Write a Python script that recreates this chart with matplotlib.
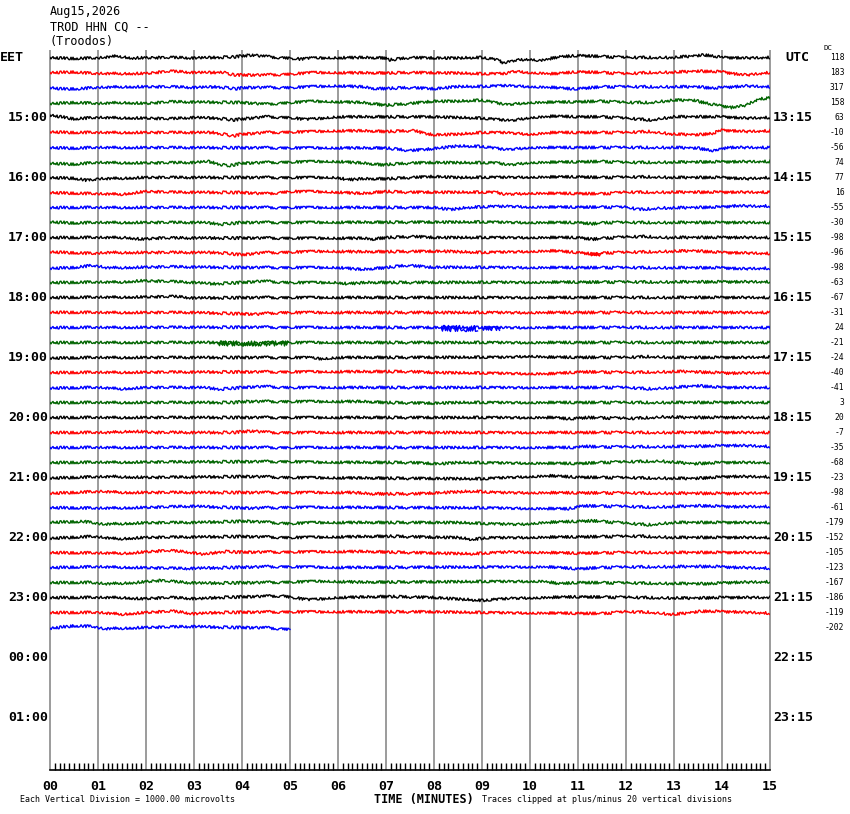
import numpy as np
import matplotlib.pyplot as plt

# header text
station_date = "Aug15,2026"
station_code = "TROD HHN CQ --"
station_name = "(Troodos)"

eet_labels = ['15:00', '16:00', '17:00', '18:00', '19:00', '20:00',
              '21:00', '22:00', '23:00', '00:00', '01:00']
utc_labels = ['13:15', '14:15', '15:15', '16:15', '17:15', '18:15',
              '19:15', '20:15', '21:15', '22:15', '23:15']
label_rows = [4, 8, 12, 16, 20, 24, 28, 32, 36, 40, 44]
n_rows = 48

minute_labels = ['%02d' % m for m in range(16)]

dc_values = [118, 183, 317, 158, 63, -10, -56, 74, 77, 16, -55, -30, -98,
             -96, -98, -63, -67, -31, 24, -21, -24, -40, -41, 3, 20, -7,
             -35, -68, -23, -98, -61, -179, -152, -105, -123, -167, -186,
             -119, -202]

# trace wander: (minute, amplitude), 15 units = 1 row
tr00 = [(0, 0), (0.5, -1), (1, -0.5), (1.4, 1.5), (1.7, -0.5), (2.5, 0), (3, -0.5),
        (3.8, 0.5), (4.2, 2.5), (4.6, 0.5), (5, -0.5), (5.2, -1.5), (5.5, -0.5),
        (6.5, 0), (7, -0.5), (7.05, -2.5), (7.5, 0), (8, -0.5), (8.5, -0.5), (9, 0),
        (9.3, -2), (9.45, -5.5), (9.7, -2.5), (10, -1.5), (10.2, -3), (10.6, 0.5),
        (11, 2), (11.5, 1), (12, 0), (13, 0), (13.65, 2.5), (14, 0), (14.5, -0.5), (15, 0)]
tr01 = [(0, 0), (0.5, 0.5), (0.9, -1), (2, -1), (2.5, 1.3), (3, 0), (3.5, 0),
        (3.55, 1.3), (3.7, -1.5), (3.9, -2.5), (4.5, -2.5), (5, -1.5), (5.5, 0),
        (7, -0.5), (7.5, 0), (8.5, -0.5), (9, -1.3), (9.5, -1), (9.65, 1.3), (10, 0),
        (10.5, -1.3), (11, 0.7), (11.5, 0), (12, -1.3), (12.5, 0), (13, 0.3),
        (13.5, 1.3), (14, 0.7), (14.3, -1.5), (14.5, -2.5), (15, 0)]
tr02 = [(0, 0), (0.25, -1.3), (0.6, -1.3), (1, 0), (1.5, 0.7), (2.5, 0.7), (3, 0),
        (3.5, 0.7), (3.85, -1.3), (4.1, 0), (5, 0), (5.5, 1), (6, 1.7), (6.5, 0.7),
        (6.8, -1.3), (7.5, 0), (8, -1.3), (8.5, 1), (9, 1), (9.5, 2), (10, 1),
        (10.5, 0), (10.9, -1.5), (11.5, 0.7), (13.5, 0.7), (13.8, -0.7), (14.5, 1.5),
        (15, 0.7)]
tr03 = [(0, -1), (0.5, 0), (1, -1), (1.5, 0), (2, -1), (2.5, 0.7), (4, 0),
        (4.5, -1.7), (5, 0), (5.5, 1.3), (6, 0.7), (6.5, 0), (7, -2.7), (7.5, -1),
        (8, 1.3), (8.5, 1.3), (9, 2.3), (9.5, -2), (10, 0), (11, 0.7), (11.5, 1.3),
        (12, 0), (12.5, 0), (13, 2.3), (13.4, 2.3), (13.8, -2), (14.2, -5),
        (14.5, -2.7), (14.75, 3.3), (15, 4.7)]
tr04 = [(0, 2.5), (0.5, -1.3), (1, 0), (2, -0.7), (2.5, -1.3), (3, 0), (3.5, -0.7),
        (3.8, -2.5), (4.1, -1), (4.5, 0.7), (5, 0), (5.35, -2), (5.6, -1), (6, 0.7),
        (8, 0.7), (9, -0.7), (9.6, -3), (10, 0), (10.5, 1.3), (11, 0.7), (11.5, 0.7),
        (12, -0.7), (12.5, -2.5), (13, 0.7), (14, 0.7), (14.5, -0.7), (15, 0)]
tr05 = [(0, 0.7), (0.5, 0), (3.4, 0), (3.6, -1.5), (3.8, -3.5), (4, -1.7), (4.5, 0),
        (5, 0.5), (5.5, 1), (6, 1.7), (6.5, 1.7), (7, 1), (7.6, 2), (7.8, -1),
        (8, -2.3), (8.5, -1.7), (9, 0), (9.5, 0), (10, -1.7), (10.5, 0), (12, 0),
        (12.5, 1), (13, -1.7), (13.5, -2.3), (13.8, -1), (14, 2.3), (14.5, 1), (15, 1.7)]
tr06 = [(0, 0), (0.5, -0.7), (1, 0), (7, -0.5), (7.5, -3), (7.8, -2), (8.2, 0),
        (8.5, 1.5), (9, 1), (9.5, -2), (10, 0), (13, 0), (13.5, -0.7), (13.85, -3.5),
        (14.1, 0), (15, 0)]
tr07 = [(0, -0.7), (0.5, -1.7), (1, 0), (2, -0.5), (3, 0), (3.3, 1), (3.7, -3.5),
        (4, -0.7), (4.5, 0), (5.5, 1), (6, 1), (6.5, -0.5), (6.9, -2.3), (7.5, -0.5),
        (8, 0), (9.3, -0.3), (9.55, -2.3), (10, 0), (11.5, 1), (12, 0), (15, 1)]
tr08 = [(0, 0), (0.5, -0.7), (0.8, -3), (1, -1.3), (1.5, -0.7), (2, 0), (6, 0),
        (6.2, -2.3), (6.5, -1.3), (7, -1.3), (7.5, 0), (8, 1), (8.5, 0), (11, 0.7),
        (11.5, 0), (12.5, 0.7), (13, 0), (14, 0), (14.5, -1.3), (15, 0)]
tr09 = [(0, 0), (0.5, -0.7), (1, -1.3), (1.5, -1.7), (2, 1), (2.5, 0.3), (4, 0),
        (4.5, -1.3), (5, 1), (5.5, 1), (6, 0.3), (6.5, -1), (7, 1), (7.5, 0.3),
        (9.3, 0.3), (9.45, -1.7), (10, -0.7), (11, -1), (11.5, -1.3), (12, 0.3), (15, 0.3)]
tr10 = [(0, 0), (8, 0), (8.35, -2), (8.7, 0), (9.2, 1), (9.6, 1.3), (10, 0.5),
        (12, 0.3), (12.3, -2), (12.7, -0.5), (13.5, 0), (14, 0.5), (14.3, 1.7),
        (14.7, 1.3), (15, 1.5)]
tr11 = [(0, 0.7), (0.5, -0.5), (1, 0), (3.2, 0), (3.6, -1.7), (4, 0), (9, 0.5),
        (10, 0), (11, 0), (11.3, -1.3), (11.6, 0), (15, 0)]
tr12 = [(0, 0), (1.6, 0), (1.9, -1.7), (2.3, -0.5), (4, -0.5), (6.5, -0.7),
        (6.75, -1.7), (7, 0), (7.6, 1), (8, 0), (11, 0), (11.3, -1.7), (11.6, -0.5),
        (12, 0.5), (12.4, 1), (12.8, 0), (15, 0)]
tr13 = [(0, 0.7), (0.9, -1), (1.2, 0), (3.5, 0), (4, -2.3), (4.4, -0.3), (5.7, 1.3),
        (6.5, 0.7), (8.2, 1.3), (9, 0), (10.5, 1.7), (11, 0), (11.35, -1.7),
        (11.6, -0.3), (13.4, 1.7), (14, 0), (15, -1)]
tr14 = [(0, -0.7), (0.5, 0), (0.9, 2), (1.2, -0.3), (2.5, 0.7), (4, 0), (6, 0),
        (6.5, -2), (6.9, -0.5), (7.45, 2.3), (7.9, 0.3), (10, 0), (14, -0.3),
        (14.4, -1.3), (15, -0.7)]
tr15 = [(0, 0), (1.5, 0.5), (1.9, 1.7), (2.5, 1), (3, 0), (3.4, -1.3), (4, 0),
        (4.4, 1.3), (5, 0), (6, 0), (6.2, -1.3), (6.6, 0), (15, 0.7)]
tr16 = [(0, 0), (2, 0.5), (2.6, 1), (3, -0.5), (4.5, 0), (6.5, 0), (11, 0), (15, 0)]
tr17 = [(0, 0.3), (1, 0), (3, 0), (4.3, -1.7), (4.8, 0), (15, 0)]
tr18 = [(0, 0), (4.5, 0.3), (6, 0), (15, 0)]
tr19 = [(0, 0), (3.5, 0), (4.1, -1.5), (4.6, 0), (15, 0)]
tr20 = [(0, -0.5), (1, 0), (5.3, 0), (5.7, -1.3), (6, 0), (9.5, 0.3), (10, 1.5),
        (10.4, 0.3), (12, 0), (12.5, 1), (13, 0), (14.5, 0), (15, 0.7)]
tr21 = [(0, 0), (7.45, 1), (8, 0), (10.4, -1.3), (11.1, 0.7), (12, 0), (13.2, 1),
        (14.2, -0.7), (15, 0)]
tr22 = [(0, -0.5), (1, 0), (1.5, -1.3), (2, 0), (3.2, 0), (3.55, -1.7), (4, 0),
        (4.4, 1), (5, 0), (12, 0), (12.45, -1.3), (13, 0), (13.5, 1.7), (14, 0), (15, 0)]
tr23 = [(0, 0), (3.8, 0), (4.1, 1), (6.5, 1), (7, 0), (8, -0.7), (8.5, 0), (15, 0)]
tr24 = [(0, 0), (10.5, 0), (10.8, -1.3), (11.2, 0), (12.1, -1), (12.8, 0.7),
        (13.2, 0), (15, 0)]
tr25 = [(0, 0), (1.2, 0), (1.7, 1.3), (2.2, 0), (3.8, 0), (4.2, 1.5), (4.6, 0), (15, 0)]
tr26 = [(0, 0), (11, 0), (11.1, 1.3), (11.5, 0.5), (13.3, 1), (13.6, 1.3), (14.2, 2),
        (14.6, 1.7), (15, 1)]
tr27 = [(0, 0), (5, 1), (5.5, 0.3), (7.5, 0), (8.1, -1.3), (8.5, 0), (11, -1),
        (11.5, 0), (12.7, 1.5), (13.4, -1.3), (14, 0), (15, 0)]
tr28 = [(0, -0.5), (1.3, 1), (2, 0), (4.2, 1), (5, 0), (9, -1.3), (9.5, 0),
        (10.4, 1.7), (11, 0.3), (13.4, -1), (14.2, 1), (15, 0.7)]
tr29 = [(0, -0.7), (1.1, 1), (1.6, 0), (6.3, 0), (6.7, -1.3), (7.6, -1.3), (8.2, 0),
        (8.8, 1.3), (9.3, 0), (14.4, -1), (15, 0)]
tr30 = [(0, 0), (1, -0.7), (2, 0), (3, 1.3), (3.5, 0.3), (4.2, -0.7), (5, 0.3),
        (9, -0.3), (10.8, -1.3), (11.1, 1.7), (12, 1), (12.5, 0.3), (13.6, 1.7),
        (14.2, 0.7), (15, 1)]
tr31 = [(0, 0.3), (0.7, 1), (1.1, -1.7), (2, -0.3), (3, 0), (4.1, 1.3), (5, -1),
        (5.5, 0), (8.5, 0), (9.2, -1.3), (9.8, -1.7), (10.3, 0), (11.3, 1.7),
        (11.8, 0), (12.45, -2.3), (13, 0), (15, 0)]
tr32 = [(0, -0.7), (0.9, 1), (1.4, -1.3), (2, 0), (4, 1), (5, 0), (7.1, 1.3),
        (8, 0.3), (8.5, 0), (8.8, -2), (9.1, -0.3), (12.3, 1.3), (13, 0), (15, 0)]
tr33 = [(0, 0), (1, -0.5), (1.6, -0.7), (2.45, 2), (2.9, 0.3), (3.2, -2), (3.6, 1),
        (4, 0.3), (6.5, 1), (7.5, 0), (8.8, -1.3), (9.6, 0.7), (11, -0.7), (12, 0), (15, 0)]
tr34 = [(0, 0), (1, 0.7), (2.8, -1), (4.75, 1), (6, 0), (10.35, 0.7), (11, -1.3),
        (11.5, 0), (12.45, 0.7), (13.8, 1), (14.3, 0), (15, -0.7)]
tr35 = [(0, 0), (0.8, 0), (1.2, -1.3), (1.8, 0), (2.3, 2), (2.8, 0), (3.2, -0.7),
        (4.5, 0), (5.7, 1.3), (6.5, 0.3), (10.3, 1.3), (10.6, -1.3), (11, 0),
        (13.7, -1.3), (14.2, 0), (15, 0.7)]
tr36 = [(0, 0), (1.5, 0), (1.9, -1.3), (2.5, 0), (3.1, -1.3), (3.5, 0), (4.85, 1.7),
        (5.4, -2.3), (6, 0), (7.1, 1), (8, 0), (9, -3), (9.6, -0.7), (11, 0.7),
        (13.4, -0.7), (14, 0), (15, 0)]
tr37 = [(0, 0), (1, 0), (1.5, -1.7), (2, 0), (2.55, 1.3), (3, -1.3), (3.5, 0),
        (5, 0.7), (8, 0.7), (9, 0), (11.5, -1), (12, 0.7), (12.5, 0.3), (13, -2),
        (13.6, 1.3), (14.2, 0.7), (15, -0.7)]
tr38 = [(0, -0.7), (0.5, 1.7), (0.9, 1), (1.1, -1.3), (1.5, -0.7), (2, 0), (3, 1),
        (3.5, 0.3), (4, 0), (4.5, -0.3), (5, -1.7)]

traces = [tr00, tr01, tr02, tr03, tr04, tr05, tr06, tr07, tr08, tr09,
          tr10, tr11, tr12, tr13, tr14, tr15, tr16, tr17, tr18, tr19,
          tr20, tr21, tr22, tr23, tr24, tr25, tr26, tr27, tr28, tr29,
          tr30, tr31, tr32, tr33, tr34, tr35, tr36, tr37, tr38]

# stretches with stronger shaking
burst_rows = [18, 18, 19, 13]
burst_start = [8.15, 9.0, 3.5, 11.25]
burst_end = [8.9, 9.35, 4.95, 11.5]
burst_level = [0, 0, 0, -1.5]
burst_noise = [3.0, 2.0, 2.5, 1.5]

colors = ['black', 'red', 'blue', '#006400']
mono = 'DejaVu Sans Mono'

fig = plt.figure(figsize=(8.5, 8.14), dpi=100)
ax = fig.add_axes([50 / 850, 44 / 814, 720 / 850, 720 / 814])

for r, tr in enumerate(traces):
    t = np.array([p[0] for p in tr])
    a = np.array([p[1] for p in tr])
    ln, = ax.plot(t, r - a / 15, color=colors[r % 4], lw=1.0)
    ln.set_sketch_params(1.4, 1.5, 3.0)

for row, t0, t1, lev, nz in zip(burst_rows, burst_start, burst_end, burst_level, burst_noise):
    ln, = ax.plot([t0, t1], [row - lev / 15, row - lev / 15], color=colors[row % 4], lw=1.0)
    ln.set_sketch_params(nz, 1.5, 2.0)

ax.set_xlim(0, 15)
ax.set_ylim(n_rows - 0.5, -0.5)
ax.vlines(range(16), 0, 1, transform=ax.get_xaxis_transform(), colors='#808080',
          lw=1.1, clip_on=False, zorder=0)
for s in ['top', 'left', 'right']:
    ax.spines[s].set_visible(False)
ax.spines['bottom'].set_linewidth(1.2)

ax.set_xticks(range(16))
ax.set_xticklabels(minute_labels, fontfamily=mono, fontweight='bold', fontsize=9.5)
ax.set_xticks(np.arange(0, 15.001, 0.1), minor=True)
ax.tick_params(axis='x', which='major', length=0, pad=7)
ax.tick_params(axis='x', which='minor', direction='in', length=5, width=1)
ax.set_yticks([])

ytr = ax.get_yaxis_transform()
for row, lab in zip(label_rows, eet_labels):
    ax.text(-0.003, row, lab, transform=ytr, ha='right', va='center',
            fontfamily=mono, fontweight='bold', fontsize=9.5)
for row, lab in zip(label_rows, utc_labels):
    ax.text(1.004, row, lab, transform=ytr, ha='left', va='center',
            fontfamily=mono, fontweight='bold', fontsize=9.5)
for r, v in enumerate(dc_values):
    ax.text(1.1035, r, str(v), transform=ytr, ha='right', va='center',
            fontfamily=mono, fontsize=5.8)
ax.text(-0.07, 0, 'EET', transform=ytr, ha='left', va='center',
        fontfamily=mono, fontweight='bold', fontsize=9.5)
ax.text(1.021, 0, 'UTC', transform=ytr, ha='left', va='center',
        fontfamily=mono, fontweight='bold', fontsize=9.5)

fig.text(823 / 850, 1 - 48 / 814, 'DC', fontfamily=mono, fontsize=5.3, va='center')
fig.text(50 / 850, 1 - 12 / 814, station_date, fontfamily=mono, fontsize=8.5, va='center')
fig.text(50 / 850, 1 - 27 / 814, station_code, fontfamily=mono, fontsize=8.5, va='center')
fig.text(50 / 850, 1 - 42 / 814, station_name, fontfamily=mono, fontsize=8.5, va='center')

fig.text(20 / 850, 1 - 800 / 814, 'Each Vertical Division = 1000.00 microvolts',
         fontfamily=mono, fontsize=6, va='center')
fig.text(374 / 850, 1 - 799 / 814, 'TIME (MINUTES)', fontfamily=mono,
         fontweight='bold', fontsize=8.5, va='center')
fig.text(482 / 850, 1 - 800 / 814, 'Traces clipped at plus/minus 20 vertical divisions',
         fontfamily=mono, fontsize=6, va='center')

fig.savefig('out.png', dpi=100)
